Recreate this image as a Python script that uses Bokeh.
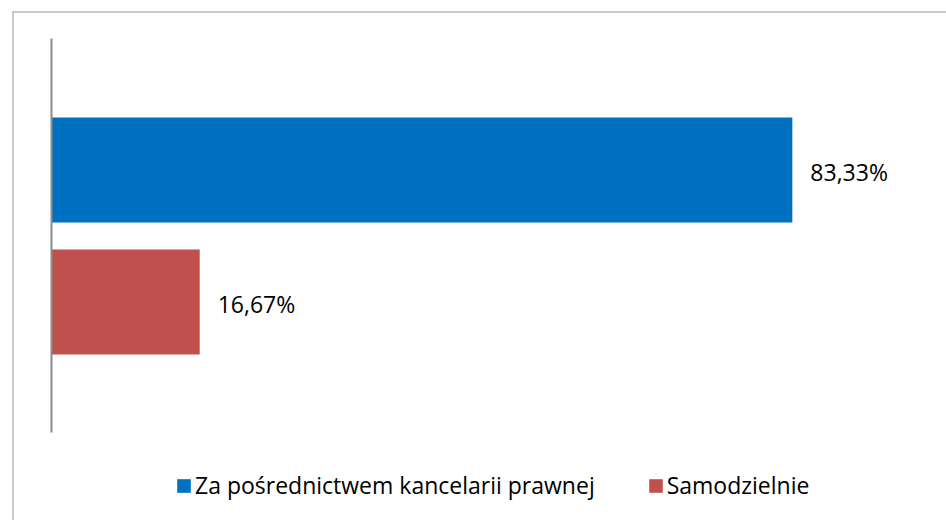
from bokeh.plotting import figure
from bokeh.models import ColumnDataSource, Range1d, Legend, LegendItem, Span
from bokeh.core.properties import value
from bokeh.embed import file_html
from bokeh.resources import INLINE

# --- data ---
series = ["Za pośrednictwem kancelarii prawnej", "Samodzielnie"]
values = [83.33, 16.67]
colors = ["#0070C0", "#C0504D"]
labels = [f"{v:.2f}%".replace(".", ",") for v in values]

# layout of the single category (0..1) with two dodged bars
bar_pos = [0.6662, 0.3312]
bar_h = 0.2665

FONT = "Open Sans"

xr = Range1d(-4.387, 100.67)
yr = Range1d(-0.2234, 1.0685)
p = figure(width=946, height=520, output_backend="svg", toolbar_location=None,
           x_range=xr, y_range=yr,
           min_border_left=12, min_border_top=11, min_border_right=0, min_border_bottom=0)
p.xaxis.visible = False
p.yaxis.visible = False
p.xgrid.visible = False
p.ygrid.visible = False
p.outline_line_color = None
p.background_fill_color = "white"
p.border_fill_color = "white"

# chart-area border (left and top edges; right/bottom lie outside the view)
p.add_layout(Span(location=xr.start, dimension="height", line_color="#9a9a9a", line_width=2))
p.add_layout(Span(location=yr.end, dimension="width", line_color="#9a9a9a", line_width=2))

src = ColumnDataSource(dict(y=bar_pos, right=values, color=colors, label=labels, name=series))

renderers = []
for i in range(len(series)):
    s = ColumnDataSource(dict(y=[bar_pos[i]], right=[values[i]]))
    r = p.hbar(y="y", left=0, right="right", height=bar_h, source=s,
               fill_color=colors[i], line_color=None)
    renderers.append(r)

# vertical category axis line
p.segment(x0=[0], y0=[0], x1=[0], y1=[1], line_color="#8c8c8c", line_width=2)

# value labels
p.text(x="right", y="y", text="label", source=src, x_offset=18, y_offset=2,
       text_baseline="middle", text_align="left", text_font=value(FONT),
       text_font_size="23px", text_color="black")

legend = Legend(items=[LegendItem(label=series[i], renderers=[renderers[i]]) for i in range(len(series))],
                orientation="horizontal", location=(163, 19),
                glyph_width=17, glyph_height=17, label_standoff=3, spacing=52,
                padding=0, margin=0, border_line_color=None, background_fill_alpha=0,
                label_text_font=FONT, label_text_font_size="23px", label_text_color="black",
                label_height=17)
p.add_layout(legend, "center")

open("out.html", "w").write(file_html(p, INLINE))
